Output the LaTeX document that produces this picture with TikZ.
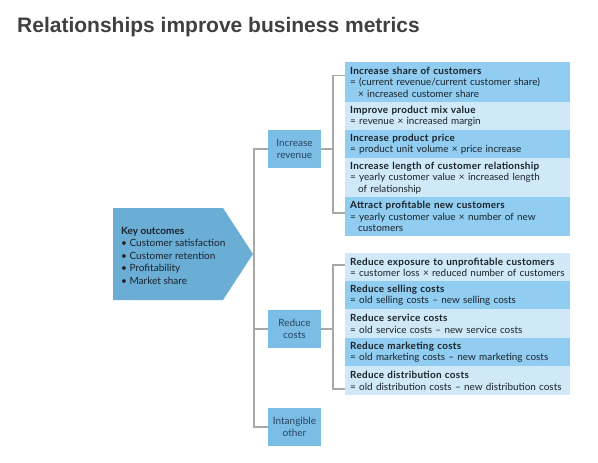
\documentclass[tikz,border=0pt]{standalone}
\usepackage{fontspec}
\setmainfont{Lato}
\newfontfamily\titlefont{Liberation Sans}
\usetikzlibrary{calc}
\definecolor{pent}{HTML}{6AAED6}
\definecolor{catc}{HTML}{7CBDE6}
\definecolor{dk}{HTML}{90CDF0}
\definecolor{lt}{HTML}{CFE9F8}
\definecolor{txt}{HTML}{1A2129}
\definecolor{cattxt}{HTML}{28435E}
\definecolor{ln}{HTML}{A8A8A8}
\definecolor{ttl}{HTML}{404040}
\newcommand{\ind}{\hspace*{8pt}}
\newcommand{\hd}[1]{{\bfseries\addfontfeatures{LetterSpace=3}#1}}
\begin{document}
\begin{tikzpicture}[x=1pt,y=-1pt,
  conn/.style={draw=ln, line width=1.2pt},
  cat/.style={fill=catc, minimum width=53pt, minimum height=38pt, inner sep=0pt, align=center, text=cattxt, font=\fontsize{10}{11.5}\selectfont},
  item/.style={anchor=north west, minimum width=225pt, text width=215pt, inner xsep=5pt, inner ysep=0pt, align=left, text=txt, font=\fontsize{9.9}{11.5}\selectfont},
  dkitem/.style={item, fill=dk},
  ltitem/.style={item, fill=lt}]
\useasboundingbox (0,0) rectangle (598,463);
\node[anchor=base west, font=\titlefont\bfseries\fontsize{21}{24}\selectfont, text=ttl, inner sep=0pt] (title) at (17,32) {Relationships improve business metrics};

\coordinate (sp) at (254,0);
\coordinate (rb) at (333,0);

% categories
\node[cat] (rev) at (294.5,149) {Increase\\revenue};
\node[cat] (cost) at (294.5,329) {Reduce\\costs};
\node[cat] (intg) at (294.5,427) {Intangible\\other};

% spine
\draw[conn] (rev.west) -- (rev.west -| sp) -- (intg.west -| sp) -- (intg.west);
\draw[conn] (cost.west) -- (cost.west -| sp);

% key outcomes
\fill[pent] (113,208) -- (223,208) -- (253,254) -- (223,300) -- (113,300) -- cycle;
\node[anchor=north west, align=left, inner sep=0pt, text=txt, font=\fontsize{10}{12.5}\selectfont] (keytxt) at (121,227)
  {\textbf{Key outcomes}\\• Customer satisfaction\\• Customer retention\\• Profitability\\• Market share};

% revenue items
\node[dkitem, minimum height=40pt] (r1) at (345,62) {\hd{Increase share of customers}\\= (current revenue/current customer share)\\\ind× increased customer share};
\node[ltitem, minimum height=28pt] (r2) at (345,102) {\hd{Improve product mix value}\\= revenue × increased margin};
\node[dkitem, minimum height=28pt] (r3) at (345,130) {\hd{Increase product price}\\= product unit volume × price increase};
\node[ltitem, minimum height=39pt] (r4) at (345,158) {\hd{Increase length of customer relationship}\\= yearly customer value × increased length\\\ind of relationship};
\node[dkitem, minimum height=39pt] (r5) at (345,197) {\hd{Attract profitable new customers}\\= yearly customer value × number of new\\\ind customers};

% cost items
\node[ltitem, minimum height=28pt] (c1) at (345,253) {\hd{Reduce exposure to unprofitable customers}\\= customer loss × reduced number of customers};
\node[dkitem, minimum height=28pt] (c2) at (345,281) {\hd{Reduce selling costs}\\= old selling costs – new selling costs};
\node[ltitem, minimum height=29pt] (c3) at (345,309) {\hd{Reduce service costs}\\= old service costs – new service costs};
\node[dkitem, minimum height=28pt] (c4) at (345,338) {\hd{Reduce marketing costs}\\= old marketing costs – new marketing costs};
\node[ltitem, minimum height=29pt] (c5) at (345,366) {\hd{Reduce distribution costs}\\= old distribution costs – new distribution costs};

% brackets
\coordinate (a1) at ($(r1.north west)+(0,13.5)$);
\coordinate (a2) at ($(r5.north west)+(0,16)$);
\coordinate (b1) at ($(c1.north west)+(0,12)$);
\coordinate (b2) at ($(c5.north west)+(0,23)$);
\draw[conn] (rev.east) -- (rev.east -| rb);
\draw[conn] (a1) -- (a1 -| rb) -- (a2 -| rb) -- (a2);
\draw[conn] (cost.east) -- (cost.east -| rb);
\draw[conn] (b1) -- (b1 -| rb) -- (b2 -| rb) -- (b2);
\end{tikzpicture}
\end{document}
